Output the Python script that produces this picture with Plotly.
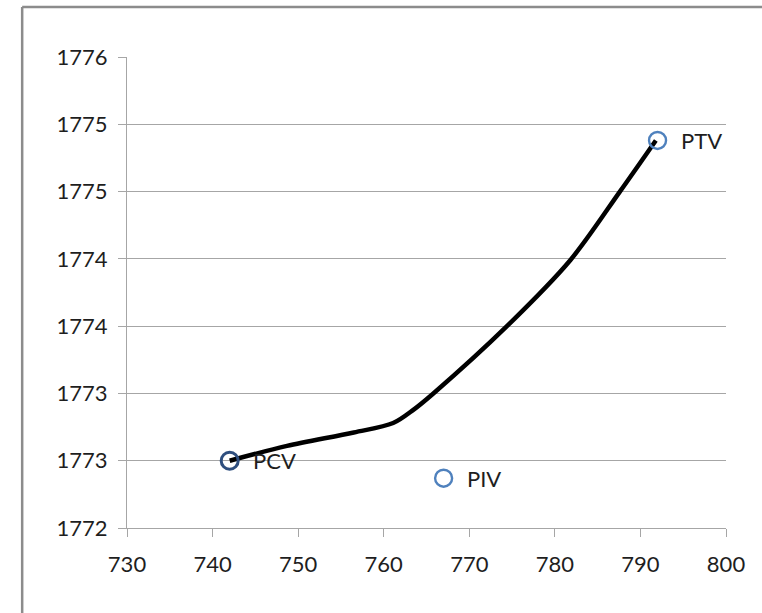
import plotly.graph_objects as go

# Named points
point_names = ["PCV", "PIV", "PTV"]
point_x = [742, 767, 792]
point_y = [1772.5, 1772.37, 1774.88]

# Smoothed curve from PCV to PTV
curve_x = [742.0, 748.7, 756.5, 761.1, 763.5, 765.8, 774.4, 781.8, 787.6, 791.8]
curve_y = [1772.50, 1772.61, 1772.71, 1772.78, 1772.88, 1773.00, 1773.50, 1773.99, 1774.50, 1774.88]

# Axis ticks
x_ticks = [730, 740, 750, 760, 770, 780, 790, 800]
y_ticks = [1772.0, 1772.5, 1773.0, 1773.5, 1774.0, 1774.5, 1775.0, 1775.5]
y_tick_text = ["1772", "1773", "1773", "1774", "1774", "1775", "1775", "1776"]

font_family = "Lato, 'Open Sans', sans-serif"
text_color = "#1E1E1E"
grid_color = "#A6A6A6"

fig = go.Figure()

fig.add_trace(go.Scatter(
    x=curve_x, y=curve_y, mode="lines",
    line=dict(color="black", width=4.5, shape="spline", smoothing=0.9),
    hoverinfo="skip", showlegend=False,
))

marker_colors = ["#2E4E7E", "#4F81BD", "#4F81BD"]
marker_widths = [3, 2.4, 2.4]
fig.add_trace(go.Scatter(
    x=point_x, y=point_y, mode="markers",
    marker=dict(symbol="circle-open", size=17, color=marker_colors,
                line=dict(width=marker_widths, color=marker_colors)),
    showlegend=False,
))

for name, px, py in zip(point_names, point_x, point_y):
    fig.add_annotation(
        x=px, y=py, text=name, showarrow=False,
        xanchor="left", yanchor="middle", xshift=21,
        font=dict(family=font_family, size=22, color=text_color),
    )

# Outer frame of the chart area
fig.add_shape(type="line", xref="paper", yref="paper",
              x0=-0.175, x1=-0.175, y0=1.106, y1=-0.3,
              line=dict(color="#8C8C8C", width=2.5))
fig.add_shape(type="line", xref="paper", yref="paper",
              x0=-0.175, x1=1.2, y0=1.106, y1=1.106,
              line=dict(color="#8C8C8C", width=2.5))

fig.update_layout(
    width=762, height=613,
    margin=dict(l=127, r=36, t=57, b=85),
    paper_bgcolor="white", plot_bgcolor="white",
    font=dict(family=font_family, size=22, color=text_color),
    showlegend=False,
)

fig.update_xaxes(
    range=[730, 800], tickvals=x_ticks, ticktext=[str(v) for v in x_ticks],
    showgrid=False, zeroline=False,
    showline=True, linecolor=grid_color, linewidth=1.2,
    ticks="outside", ticklen=8, tickcolor=grid_color, tickwidth=1.2,
    ticklabelstandoff=8,
    tickfont=dict(family=font_family, size=22, color=text_color),
)
fig.update_yaxes(
    range=[1772.0, 1775.5], tickvals=y_ticks, ticktext=y_tick_text,
    showgrid=True, gridcolor=grid_color, gridwidth=1.2, zeroline=False,
    showline=True, linecolor=grid_color, linewidth=1.2,
    ticks="outside", ticklen=8, tickcolor=grid_color, tickwidth=1.2,
    ticklabelstandoff=6,
    tickfont=dict(family=font_family, size=22, color=text_color),
)

fig.write_html("out.html")
